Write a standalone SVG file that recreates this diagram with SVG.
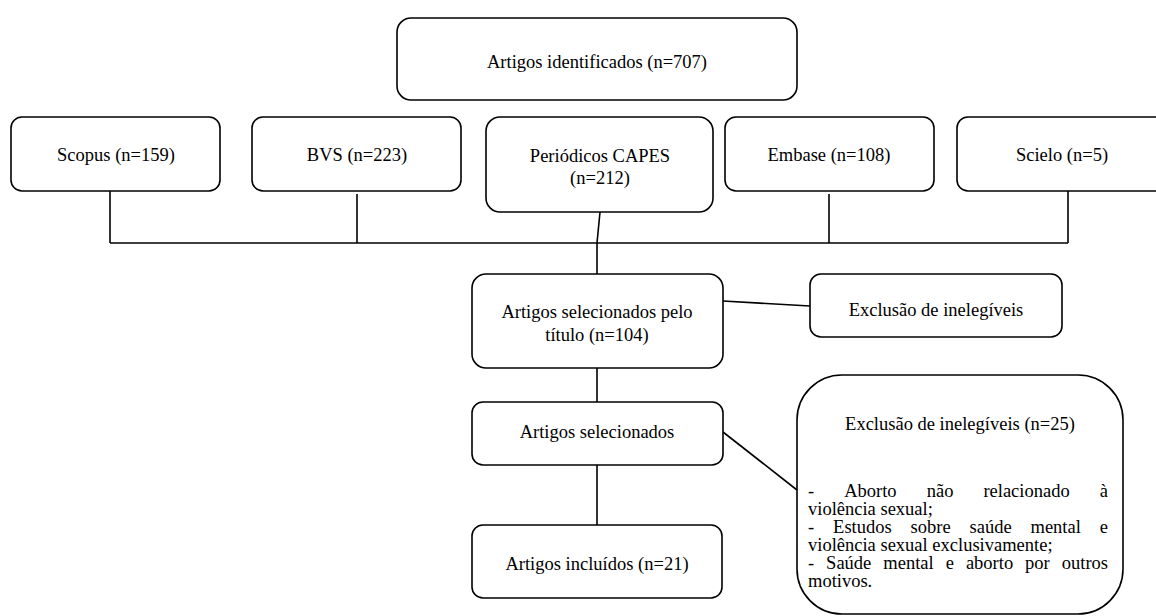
<svg xmlns="http://www.w3.org/2000/svg" width="1156" height="616" viewBox="0 0 1156 616">
<style>
.box{fill:#fff;stroke:#000;stroke-width:1.6}
.t{font-family:"Liberation Serif","Times New Roman",serif;font-size:18.5px;fill:#000}
.c{text-anchor:middle}
.e{text-anchor:end}
.ln{stroke:#000;stroke-width:1.6;fill:none}
</style>
<rect width="1156" height="616" fill="#fff"/>
<g id="connectors">
<line class="ln" x1="110" y1="191" x2="110" y2="243"/>
<line class="ln" x1="357" y1="194" x2="357" y2="243"/>
<line class="ln" x1="600" y1="212" x2="597" y2="243"/>
<line class="ln" x1="829" y1="194" x2="829" y2="243"/>
<line class="ln" x1="1068" y1="191" x2="1068" y2="243"/>
<line class="ln" x1="110" y1="243" x2="1068" y2="243"/>
<line class="ln" x1="597" y1="243" x2="597" y2="274"/>
<line class="ln" x1="723" y1="301" x2="810" y2="306"/>
<line class="ln" x1="597" y1="368" x2="597" y2="402"/>
<line class="ln" x1="597" y1="465" x2="597" y2="525"/>
<line class="ln" x1="723" y1="432" x2="797" y2="490"/>
</g>
<g id="identificados">
<rect class="box" x="397" y="18" width="400" height="82" rx="14"/>
<text class="t c" x="597" y="68">Artigos identificados (n=707)</text>
</g>
<g id="scopus">
<rect class="box" x="11" y="117" width="209" height="74" rx="11"/>
<text class="t c" x="116" y="161">Scopus (n=159)</text>
</g>
<g id="bvs">
<rect class="box" x="252" y="117" width="209" height="74" rx="11"/>
<text class="t c" x="357" y="161">BVS (n=223)</text>
</g>
<g id="capes">
<rect class="box" x="486" y="117" width="227" height="95" rx="14"/>
<text class="t c" x="600" y="162">Periódicos CAPES</text>
<text class="t c" x="600" y="184">(n=212)</text>
</g>
<g id="embase">
<rect class="box" x="725" y="117" width="209" height="74" rx="11"/>
<text class="t c" x="829" y="161">Embase (n=108)</text>
</g>
<g id="scielo">
<rect class="box" x="957" y="117" width="210" height="74" rx="11"/>
<text class="t c" x="1062" y="161">Scielo (n=5)</text>
</g>
<g id="titulo">
<rect class="box" x="472" y="274" width="251" height="94" rx="14"/>
<text class="t c" x="597" y="318">Artigos selecionados pelo</text>
<text class="t c" x="597" y="341">título (n=104)</text>
</g>
<g id="exclusao1">
<rect class="box" x="810" y="274" width="252" height="63" rx="11"/>
<text class="t c" x="936" y="316">Exclusão de inelegíveis</text>
</g>
<g id="selecionados">
<rect class="box" x="472" y="402" width="251" height="63" rx="11"/>
<text class="t c" x="597" y="438">Artigos selecionados</text>
</g>
<g id="incluidos">
<rect class="box" x="472" y="525" width="250" height="73" rx="11"/>
<text class="t c" x="597" y="570">Artigos incluídos (n=21)</text>
</g>
<g id="exclusao2">
<rect class="box" x="797" y="375" width="326" height="239" rx="45"/>
<text class="t c" x="960" y="430">Exclusão de inelegíveis (n=25)</text>
<text class="t" y="497"><tspan x="808">-</tspan><tspan x="844.2">Aborto</tspan><tspan x="926.7">não</tspan><tspan x="983.4">relacionado</tspan></text>
<text class="t e" x="1108" y="497">à</text>
<text class="t" x="808" y="515">violência sexual;</text>
<text class="t" y="533"><tspan x="808">-</tspan><tspan x="833.1">Estudos</tspan><tspan x="910.6">sobre</tspan><tspan x="969.5">saúde</tspan><tspan x="1030.5">mental</tspan></text>
<text class="t e" x="1108" y="533">e</text>
<text class="t" x="808" y="551">violência sexual exclusivamente;</text>
<text class="t" y="569"><tspan x="808">-</tspan><tspan x="826.1">Saúde</tspan><tspan x="883.3">mental</tspan><tspan x="945.7">e</tspan><tspan x="965.9">aborto</tspan><tspan x="1025.1">por</tspan></text>
<text class="t e" x="1108" y="569">outros</text>
<text class="t" x="808" y="587">motivos.</text>
</g>
</svg>
